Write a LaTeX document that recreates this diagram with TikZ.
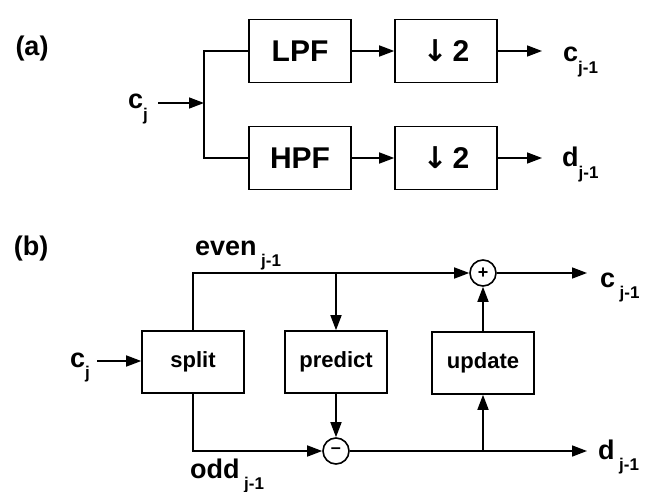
\documentclass[tikz,border=0pt]{standalone}
\usepackage{fontspec}
\setmainfont{Liberation Sans}
\newfontfamily\arrowfont{DejaVu Sans}
\usetikzlibrary{arrows.meta}
\newcommand{\lowidx}[1]{\raisebox{-0.8ex}{\fontsize{17}{17}\selectfont #1}}

\begin{document}
\begin{tikzpicture}[x=1pt, y=-1pt,
  box/.style={draw, line width=1.6pt, minimum width=102pt, minimum height=63pt,
    inner sep=0pt, font=\fontsize{30}{30}\selectfont\bfseries},
  smallbox/.style={box, minimum height=62pt, font=\fontsize{22}{22}\selectfont\bfseries},
  sum/.style={draw, circle, line width=1.6pt, minimum size=26pt, inner sep=0pt,
    font=\fontsize{18}{18}\selectfont\bfseries},
  lbl/.style={inner sep=0pt, font=\fontsize{27}{27}\selectfont\bfseries},
  wire/.style={line width=1.6pt},
  arr/.style={wire, -{Triangle[length=15pt, width=11pt]}}]
  \useasboundingbox (0,0) rectangle (645,492);

  % (a) filter bank
  \node[lbl] (partA) at (32,49) {(a)};
  \node[lbl, anchor=base east] (cjA) at (148,109) {c\lowidx{j}};
  \coordinate (BrA) at (204,103);
  \coordinate (InA) at (158,103);
  \node[box] (LPF) at (300,51) {LPF};
  \node[box] (HPF) at (300,158) {HPF};
  \node[box] (DA) at (446,51) {{\arrowfont ↓}\,2};
  \node[box] (DB) at (446,158) {{\arrowfont ↓}\,2};
  \node[lbl, anchor=base west] (cA) at (563,62) {c\lowidx{j-1}};
  \node[lbl, anchor=base west] (dA) at (562,167) {d\lowidx{j-1}};
  \coordinate (OutCA) at (542,51);
  \coordinate (OutDA) at (542,158);

  \draw[arr] (InA) -- (BrA);
  \draw[wire] (LPF.west) -| (BrA) |- (HPF.west);
  \draw[arr] (LPF) -- (DA);
  \draw[arr] (HPF) -- (DB);
  \draw[arr] (DA) -- (OutCA);
  \draw[arr] (DB) -- (OutDA);

  % (b) lifting scheme
  \node[lbl] (partB) at (31,249) {(b)};
  \node[lbl, anchor=base east] (cjB) at (90,367) {c\lowidx{j}};
  \coordinate (InB) at (97,361);
  \node[smallbox] (S) at (193,362) {split};
  \node[smallbox] (P) at (336,362) {predict};
  \node[smallbox] (U) at (483,363) {update};
  \node[sum] (Plus) at (483,273) {+};
  \node[sum] (Minus) at (336,451) {\raisebox{0.1ex}{–}};
  \node[lbl, anchor=base west] (even) at (195,255) {even\,\lowidx{j-1}};
  \node[lbl, anchor=base west] (odd) at (190,478) {odd\,\lowidx{j-1}};
  \node[lbl, anchor=base west] (cB) at (600,287) {c\,\lowidx{j-1}};
  \node[lbl, anchor=base west] (dB) at (598,459) {d\,\lowidx{j-1}};
  \coordinate (TapP) at (P.north |- Plus);
  \coordinate (TapU) at (U.south |- Minus);
  \coordinate (OutCB) at (587,273);
  \coordinate (OutDB) at (587,451);

  \draw[arr] (InB) -- (S.west |- InB);
  \draw[arr] (S.north) |- (Plus.west);
  \draw[arr] (S.south) |- (Minus.west);
  \draw[arr] (TapP) -- (P.north);
  \draw[arr] (P.south) -- (Minus.north);
  \draw[arr] (Minus.east) -- (OutDB);
  \draw[arr] (TapU) -- (U.south);
  \draw[arr] (U.north) -- (Plus.south);
  \draw[arr] (Plus.east) -- (OutCB);
\end{tikzpicture}
\end{document}
